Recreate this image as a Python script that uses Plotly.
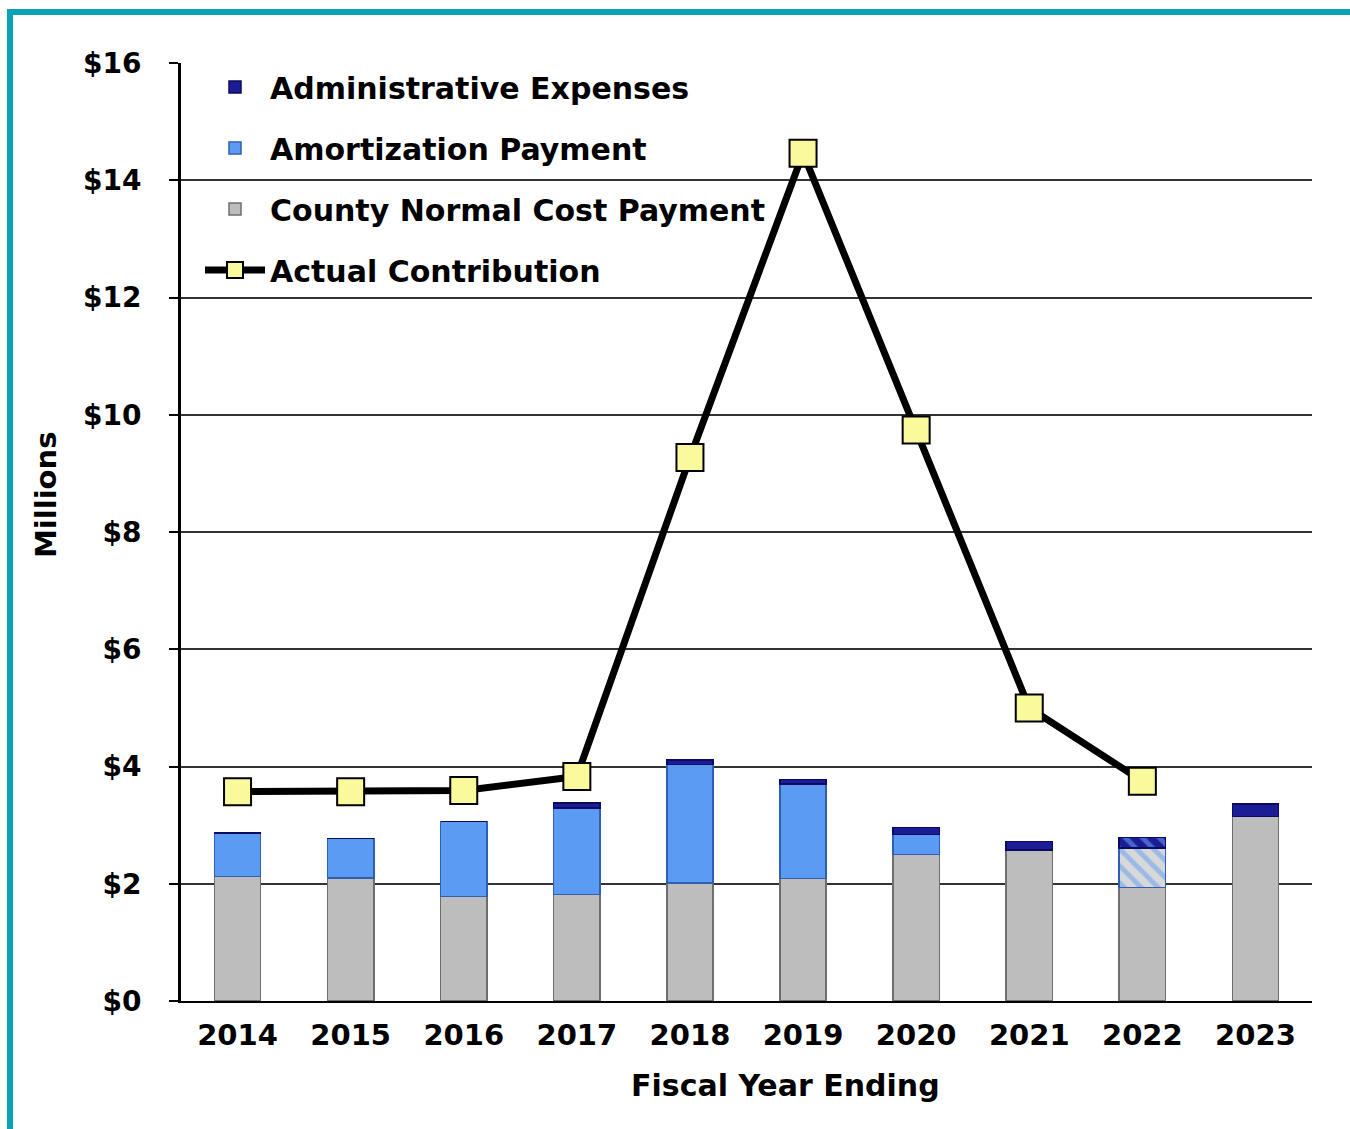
import plotly.graph_objects as go

years = ["2014", "2015", "2016", "2017", "2018", "2019", "2020", "2021", "2022", "2023"]
normal_cost = [2.12, 2.10, 1.78, 1.82, 2.01, 2.09, 2.50, 2.58, 1.94, 3.15]
amortization = [0.75, 0.67, 1.28, 1.47, 2.02, 1.61, 0.34, 0.0, 0.67, 0.0]
admin_exp = [0.0, 0.0, 0.0, 0.09, 0.08, 0.08, 0.12, 0.14, 0.18, 0.21]
actual = [3.57, 3.57, 3.59, 3.83, 9.27, 14.46, 9.74, 5.00, 3.75, None]
y_ticks = [0, 2, 4, 6, 8, 10, 12, 14, 16]

FONT = "DejaVu Sans, Liberation Sans, Arial, sans-serif"
W, H = 1350, 1129
L, R, T, B = 181, 1312, 63, 1001

def px(x):
    return (x - L) / (R - L)

def py(y):
    return (B - y) / (B - T)

hatch = ["\\" if y == "2022" else "" for y in years]

fig = go.Figure()
fig.add_trace(go.Bar(
    x=years, y=normal_cost, name="County Normal Cost Payment",
    marker=dict(color="#BDBDBD", line=dict(color="#6E6E6E", width=1.5)),
    width=0.41, legendrank=3, legendgroup="c",
))
fig.add_trace(go.Bar(
    x=years, y=amortization, name="Amortization Payment",
    marker=dict(
        color="#5B9BF3", line=dict(color="#2E5FB0", width=1.5),
        pattern=dict(shape=hatch, fgcolor="#5B9BF3", bgcolor="#D8D8D8", size=12, solidity=0.4),
    ),
    width=0.41, legendrank=2, legendgroup="b",
))
fig.add_trace(go.Bar(
    x=years, y=admin_exp, name="Administrative Expenses",
    marker=dict(
        color="#1C1C96", line=dict(color="#0A0A60", width=1.5),
        pattern=dict(shape=hatch, fgcolor="#6FB0FF", bgcolor="#1C1C96", size=12, solidity=0.4),
    ),
    width=0.41, legendrank=1, legendgroup="a",
))
fig.add_trace(go.Scatter(
    x=years, y=actual, name="Actual Contribution", mode="lines+markers",
    line=dict(color="black", width=7),
    marker=dict(symbol="square", size=27, color="#FAFA9C", line=dict(color="black", width=2)),
    legendrank=4, legendgroup="d",
))

fig.update_layout(
    width=W, height=H,
    margin=dict(l=L, r=W - R, t=T, b=H - B),
    paper_bgcolor="white", plot_bgcolor="white",
    barmode="stack",
    font=dict(family=FONT, size=28, color="black"),
    showlegend=True,
    legend=dict(
        x=px(200), y=py(61), xanchor="left", yanchor="top",
        bgcolor="rgba(0,0,0,0)", font=dict(size=30, family=FONT, color="black"),
        tracegroupgap=19, itemwidth=60,
    ),
    xaxis=dict(
        range=[-0.5, 9.5], showgrid=False, showline=True, linecolor="black", linewidth=2,
        ticks="", tickfont=dict(size=29, family=FONT, color="black"), ticklabelstandoff=7,
        tickvals=years, ticktext=[f"<b>{y}</b>" for y in years],
    ),
    yaxis=dict(
        range=[0, 16], tickvals=y_ticks, ticktext=[f"<b>${v}</b>" for v in y_ticks],
        showgrid=True, gridcolor="#333333",
        gridwidth=1.5, showline=True, linecolor="black", linewidth=3, ticks="outside",
        ticklen=9, tickwidth=2, tickcolor="black", zeroline=False,
        tickfont=dict(size=28, family=FONT, color="black"), ticklabelstandoff=22,
    ),
    annotations=[
        dict(text="<b>Fiscal Year Ending</b>", xref="paper", yref="paper",
             x=px(785), y=py(1085), xanchor="center", yanchor="middle", showarrow=False,
             font=dict(size=30, family=FONT, color="black")),
        dict(text="<b>Millions</b>", xref="paper", yref="paper",
             x=px(46), y=py(495), xanchor="center", yanchor="middle", showarrow=False,
             textangle=-90, font=dict(size=29, family=FONT, color="black")),
    ],
    shapes=[
        dict(type="line", xref="paper", yref="paper", x0=px(7), x1=px(1360), y0=py(12), y1=py(12),
             line=dict(color="#0AA3B6", width=6)),
        dict(type="line", xref="paper", yref="paper", x0=px(10), x1=px(10), y0=py(9), y1=py(1140),
             line=dict(color="#0AA3B6", width=6)),
    ],
)
for tr in fig.data:
    tr.name = f"<b>{tr.name}</b>"

fig.write_html("out.html")
